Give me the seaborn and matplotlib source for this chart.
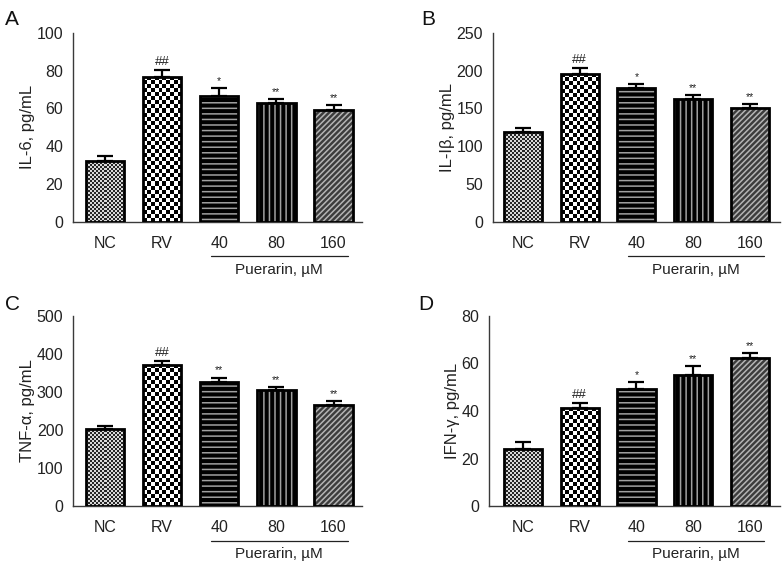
import numpy as np
import pandas as pd
import seaborn as sns
import matplotlib
matplotlib.use("Agg")
import matplotlib.pyplot as plt
from matplotlib.patches import Rectangle
from matplotlib.colors import ListedColormap
from matplotlib.transforms import blended_transform_factory

# ---------------- data ----------------
categories = ["NC", "RV", "40", "80", "160"]

il6 = [32.3, 76.8, 66.8, 62.8, 59.3]
il6_err = [2.6, 3.5, 3.8, 2.2, 2.6]
il6_marks = ["", "##", "*", "**", "**"]

il1b = [118.8, 195.5, 177.5, 162.2, 151.2]
il1b_err = [4.8, 8.0, 4.3, 5.3, 4.7]
il1b_marks = ["", "##", "*", "**", "**"]

tnf = [204, 372, 325, 306, 265]
tnf_err = [7, 10, 13, 8, 11]
tnf_marks = ["", "##", "**", "**", "**"]

ifn = [24.0, 41.2, 49.4, 55.0, 62.3]
ifn_err = [2.9, 2.3, 2.6, 4.0, 2.1]
ifn_marks = ["", "##", "*", "**", "**"]

group_label = "Puerarin, µM"

sns.set_style("white")
plt.rcParams["font.family"] = ["Liberation Sans", "DejaVu Sans"]
plt.rcParams["hatch.linewidth"] = 1.1

fig = plt.figure(figsize=(7.82, 5.65), dpi=100)

panels = [
    dict(letter="A", vals=il6, err=il6_err, marks=il6_marks, ylabel="IL-6, pg/mL",
         ymax=100, step=20, pos=[0.0934, 0.607, 0.3696, 0.335], xlim=(-0.56, 4.5),
         lpos=(0.006, 0.982)),
    dict(letter="B", vals=il1b, err=il1b_err, marks=il1b_marks, ylabel="IL-Iβ, pg/mL",
         ymax=250, step=50, pos=[0.630, 0.607, 0.367, 0.335], xlim=(-0.53, 4.52),
         lpos=(0.539, 0.982)),
    dict(letter="C", vals=tnf, err=tnf_err, marks=tnf_marks, ylabel="TNF-α, pg/mL",
         ymax=500, step=100, pos=[0.0934, 0.104, 0.3696, 0.337], xlim=(-0.56, 4.5),
         lpos=(0.006, 0.478)),
    dict(letter="D", vals=ifn, err=ifn_err, marks=ifn_marks, ylabel="IFN-γ, pg/mL",
         ymax=80, step=20, pos=[0.625, 0.104, 0.372, 0.337], xlim=(-0.6, 4.52),
         lpos=(0.535, 0.478)),
]

spine_col = "#3a3a3a"


def checker(ax, patch, cell_px, c1, c2):
    x0 = patch.get_x()
    w = patch.get_width()
    h = patch.get_height()
    p0 = ax.transData.transform((x0, 0))
    p1 = ax.transData.transform((x0 + w, h))
    nx = max(1, int(round(abs(p1[0] - p0[0]) / cell_px)))
    ny = max(1, int(round(abs(p1[1] - p0[1]) / cell_px)))
    arr = np.add.outer(np.arange(ny), np.arange(nx)) % 2
    im = ax.imshow(arr, extent=[x0, x0 + w, 0, h], origin="lower",
                   cmap=ListedColormap([c1, c2]), interpolation="nearest",
                   aspect="auto", zorder=1.5)
    im.set_clip_path(patch)


for pn in panels:
    ax = fig.add_axes(pn["pos"])
    df = pd.DataFrame({"group": categories, "value": pn["vals"]})
    sns.barplot(data=df, x="group", y="value", hue="group", palette=["#000000"] * 5,
                legend=False, ax=ax, width=0.67, errorbar=None, saturation=1)
    ax.set_xlim(*pn["xlim"])
    ax.set_ylim(0, pn["ymax"])
    ax.set_yticks(np.arange(0, pn["ymax"] + 1, pn["step"]))

    bars = list(ax.patches)
    styles = [
        dict(kind="checker", cell=2.0, c1="#262626", c2="#d8d8d8"),
        dict(kind="checker", cell=4.0, c1="#000000", c2="#ffffff"),
        dict(kind="hatch", face="#000000", hc="#a0a0a0", hatch="---"),
        dict(kind="hatch", face="#000000", hc="#a0a0a0", hatch="|||"),
        dict(kind="hatch", face="#3c3c3c", hc="#b4b4b4", hatch="//////"),
    ]
    for p, st in zip(bars, styles):
        if st["kind"] == "checker":
            p.set_facecolor("white")
            p.set_linewidth(0)
            checker(ax, p, st["cell"], st["c1"], st["c2"])
        else:
            p.set_facecolor(st["face"])
            p.set_edgecolor(st["hc"])
            p.set_linewidth(0)
            p.set_hatch(st["hatch"])
        ax.add_patch(Rectangle((p.get_x(), p.get_y()), p.get_width(), p.get_height(),
                               fill=False, edgecolor="black", linewidth=2.0, zorder=3))
    ax.set_xlim(*pn["xlim"])
    ax.set_ylim(0, pn["ymax"])

    centers = [p.get_x() + p.get_width() / 2 for p in bars]
    ax.errorbar(centers, pn["vals"], yerr=[[0] * 5, pn["err"]], fmt="none",
                ecolor="black", elinewidth=1.6, capsize=6, capthick=1.6, zorder=2.5)
    for cx, v, e, m in zip(centers, pn["vals"], pn["err"], pn["marks"]):
        if m:
            fs = 9.5 if m == "##" else 7.5
            ax.annotate(m, (cx, v + e), xytext=(0, 1.5), textcoords="offset points",
                        ha="center", va="bottom", fontsize=fs, color="#222222")

    for s in ["top", "right"]:
        ax.spines[s].set_visible(False)
    for s in ["left", "bottom"]:
        ax.spines[s].set_color(spine_col)
        ax.spines[s].set_linewidth(1.0)
    ax.tick_params(axis="both", direction="out", length=4, width=1.0, color=spine_col,
                   labelsize=11.5, labelcolor="#222222")
    ax.tick_params(axis="x", pad=6)
    ax.tick_params(axis="y", pad=3)
    ax.set_xlabel("")
    ax.set_ylabel(pn["ylabel"], fontsize=12, color="#222222", labelpad=1)

    tr = blended_transform_factory(ax.transData, ax.transAxes)
    ax.plot([1.85, 4.25], [-0.18, -0.18], transform=tr, color="#222222", lw=0.9,
            clip_on=False)
    ax.text(3.05, -0.215, group_label, transform=tr, ha="center", va="top",
            fontsize=11, color="#222222")

    fig.text(pn["lpos"][0], pn["lpos"][1], pn["letter"], fontsize=15, ha="left", va="top",
             color="#111111")

fig.savefig("out.png", dpi=100)
